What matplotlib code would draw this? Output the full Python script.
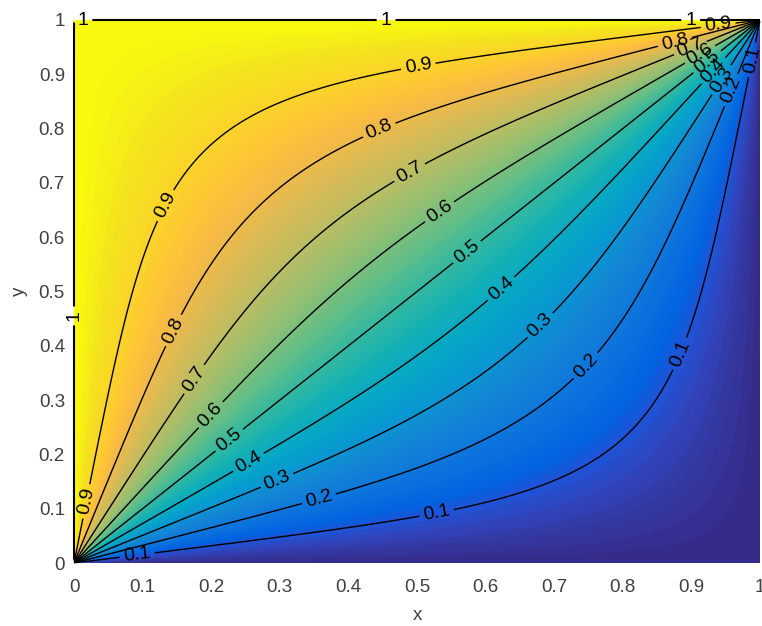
import numpy as np
import matplotlib
matplotlib.use("Agg")
import matplotlib.pyplot as plt
from matplotlib.colors import LinearSegmentedColormap

# Dirichlet boundary values on the unit square
u_left = 1.0
u_top = 1.0
u_right = 0.0
u_bottom = 0.0

# Labelled contour levels
contour_levels = [0.1, 0.2, 0.3, 0.4, 0.5, 0.6, 0.7, 0.8, 0.9, 1.0]
level_texts = ["0.1", "0.2", "0.3", "0.4", "0.5", "0.6", "0.7", "0.8", "0.9", "1"]

# Axis ticks
tick_values = [0, 0.1, 0.2, 0.3, 0.4, 0.5, 0.6, 0.7, 0.8, 0.9, 1.0]
tick_labels = ["0", "0.1", "0.2", "0.3", "0.4", "0.5", "0.6", "0.7", "0.8", "0.9", "1"]

# Parula colormap anchors (index out of 64 entries)
parula_pos = [0, 4, 6, 8, 12, 16, 20, 24, 28, 32, 36, 40, 44, 48, 52, 54, 56, 60, 63]
parula_rgb = [
    (0.2081, 0.1663, 0.5292), (0.1959, 0.2645, 0.7279), (0.1253, 0.3242, 0.8303),
    (0.0117, 0.3875, 0.8820), (0.0498, 0.4586, 0.8641), (0.0793, 0.5200, 0.8312),
    (0.0343, 0.5966, 0.8199), (0.0228, 0.6535, 0.7768), (0.0843, 0.6928, 0.7062),
    (0.2178, 0.7250, 0.6193), (0.3953, 0.7459, 0.5244), (0.5709, 0.7485, 0.4494),
    (0.7184, 0.7411, 0.3905), (0.8507, 0.7299, 0.3360), (0.9739, 0.7314, 0.2666),
    (0.9990, 0.7653, 0.2164), (0.9880, 0.8066, 0.1794), (0.9589, 0.8949, 0.1132),
    (0.9763, 0.9831, 0.0538),
]
parula = LinearSegmentedColormap.from_list(
    "parula", [(p / 63.0, c) for p, c in zip(parula_pos, parula_rgb)], N=256)

# ---- Laplace equation on the unit square (Fourier series solution) ----
n = 201
x = np.linspace(0.0, 1.0, n)
y = np.linspace(0.0, 1.0, n)
X, Y = np.meshgrid(x, y)

k = np.arange(1, 4001, 2, dtype=float)       # odd modes
coef = 4.0 / (k * np.pi)


def sinh_ratio(t):
    """sinh(k*pi*t) / sinh(k*pi) for every mode, evaluated stably."""
    a = np.outer(t, k * np.pi)
    return (np.exp(a - k * np.pi) - np.exp(-a - k * np.pi)) / (1.0 - np.exp(-2.0 * k * np.pi))


sin_x = np.sin(np.outer(x, k * np.pi)) * coef
sin_y = np.sin(np.outer(y, k * np.pi)) * coef

U = (u_top * sinh_ratio(y) @ sin_x.T
     + u_bottom * sinh_ratio(1.0 - y) @ sin_x.T
     + u_left * sin_y @ sinh_ratio(1.0 - x).T
     + u_right * sin_y @ sinh_ratio(x).T)

U[:, 0] = u_left
U[:, -1] = u_right
U[0, :] = u_bottom
U[-1, :] = u_top
U = np.clip(U, 0.0, 1.0)

# Where each level's labels sit along its line
label_spots = {
    1.0: [(0.013, 0.994), (0.455, 0.996), (0.899, 0.996), (0.0015, 0.455)],
    0.9: [(0.140, 0.654), (0.501, 0.921), (0.939, 0.991), (0.016, 0.114)],
    0.8: [(0.443, 0.803), (0.147, 0.427), (0.876, 0.960)],
    0.7: [(0.487, 0.724), (0.179, 0.335), (0.898, 0.950)],
    0.6: [(0.531, 0.650), (0.201, 0.271), (0.913, 0.936)],
    0.5: [(0.574, 0.571), (0.227, 0.225), (0.923, 0.923)],
    0.4: [(0.622, 0.506), (0.257, 0.180), (0.931, 0.908)],
    0.3: [(0.681, 0.436), (0.296, 0.151), (0.940, 0.893)],
    0.2: [(0.746, 0.363), (0.356, 0.123), (0.950, 0.875)],
    0.1: [(0.888, 0.383), (0.528, 0.096), (0.092, 0.018), (0.991, 0.926)],
}

plt.rcParams["font.family"] = ["Liberation Sans", "DejaVu Sans"]

fig = plt.figure(figsize=(7.62, 6.26), dpi=100)
ax = fig.add_axes([74 / 762, 63 / 626, 686 / 762, 543 / 626])

ax.contourf(X, Y, U, levels=np.linspace(0.0, 1.0, 101), cmap=parula,
            vmin=0.0, vmax=1.0)

# One contour set per level so each level gets its own labels
for lv, txt in zip(contour_levels, level_texts):
    on_edge = lv >= 1.0
    line_lv = 1.0 - 1e-6 if on_edge else lv   # level 1 lies on the boundary
    cs = ax.contour(X, Y, U, levels=[line_lv], colors="k",
                    linewidths=1.5 if on_edge else 1.0)
    cs.set_clip_on(False)
    labels = cs.clabel(manual=label_spots[lv], fmt={line_lv: txt},
                       fontsize=14, inline=True, inline_spacing=4, colors="k")
    for t in labels:
        t.set_clip_on(False)

ax.set_xlim(0, 1)
ax.set_ylim(0, 1)
ax.set_xticks(tick_values)
ax.set_xticklabels(tick_labels)
ax.set_yticks(tick_values)
ax.set_yticklabels(tick_labels)
ax.tick_params(axis="both", length=0, labelsize=13.5, labelcolor="#404040")
ax.tick_params(axis="x", pad=11.5)
ax.tick_params(axis="y", pad=6.5)
for sp in ax.spines.values():
    sp.set_visible(False)

ax.set_xlabel("x", fontsize=13.5, color="#404040", labelpad=8)
ax.set_ylabel("y", fontsize=13.5, color="#404040", labelpad=8)

fig.savefig("out.png", dpi=100)
